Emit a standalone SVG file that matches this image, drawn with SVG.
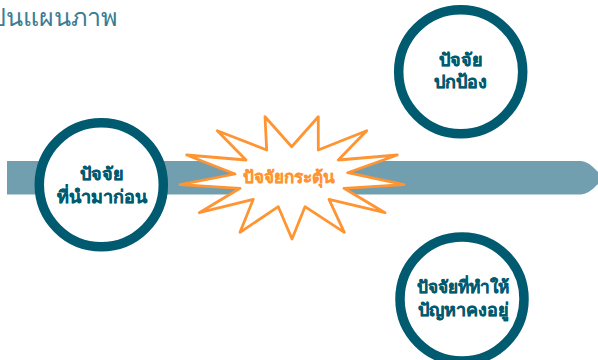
<svg xmlns="http://www.w3.org/2000/svg" width="598" height="360" viewBox="0 0 598 360">
<style>
text{font-family:"Noto Sans","Liberation Sans",sans-serif;text-anchor:middle}
.c{fill:#fff;stroke:#005a70;stroke-width:9.5}
.l{font-size:18px;font-weight:700;fill:#005a70;stroke:#005a70;stroke-width:.25}
</style>
<rect width="598" height="360" fill="#fff"/>
<text id="title" x="117" y="25.500" style="text-anchor:end;font-size:25px;font-weight:300;fill:#3a7d93">ปนแผนภาพ</text>
<g id="connectors"><path id="bar" d="M7 161H581Q588 161 598 172V184Q588 194.500 581 194.500H7Z" fill="#719fb0"/></g>
<g id="node-antecedent"><circle class="c" cx="101.300" cy="184.700" r="62"/><text class="l" x="102" y="180">ปัจจัย</text><text class="l" x="102" y="203">ที่นำมาก่อน</text></g>
<g id="node-protective"><circle class="c" cx="460.700" cy="71.700" r="62"/><text class="l" x="460.700" y="65.700">ปัจจัย</text><text class="l" x="460.700" y="88.300">ปกป้อง</text></g>
<g id="node-perpetuating"><circle class="c" cx="462" cy="299" r="62"/><text class="l" x="462.500" y="293" style="font-size:17.200px">ปัจจัยที่ทำให้</text><text class="l" x="463" y="315.500">ปัญหาคงอยู่</text></g>
<g id="node-trigger"><polygon points="265,116.700 291.700,146.700 318.300,116.700 318.300,150 366.700,130.700 338.300,160 397.300,155 347.700,172.700 404,184.700 344,188.300 385,212.700 329,199.300 344.300,232.300 305,206.700 292,239 278.300,206.700 240,232.300 253.300,199.300 199.300,212.700 240,188.300 180,184.700 235,174 186.700,155 246,160 217.300,130.700 266.700,150" fill="#fff" stroke="#ff9433" stroke-width="2.800" stroke-linejoin="round"/><text x="288.500" y="182.500" style="font-size:17px;font-weight:700;fill:#ff9433;stroke:#ff9433;stroke-width:.25">ปัจจัยกระตุ้น</text></g>
</svg>
